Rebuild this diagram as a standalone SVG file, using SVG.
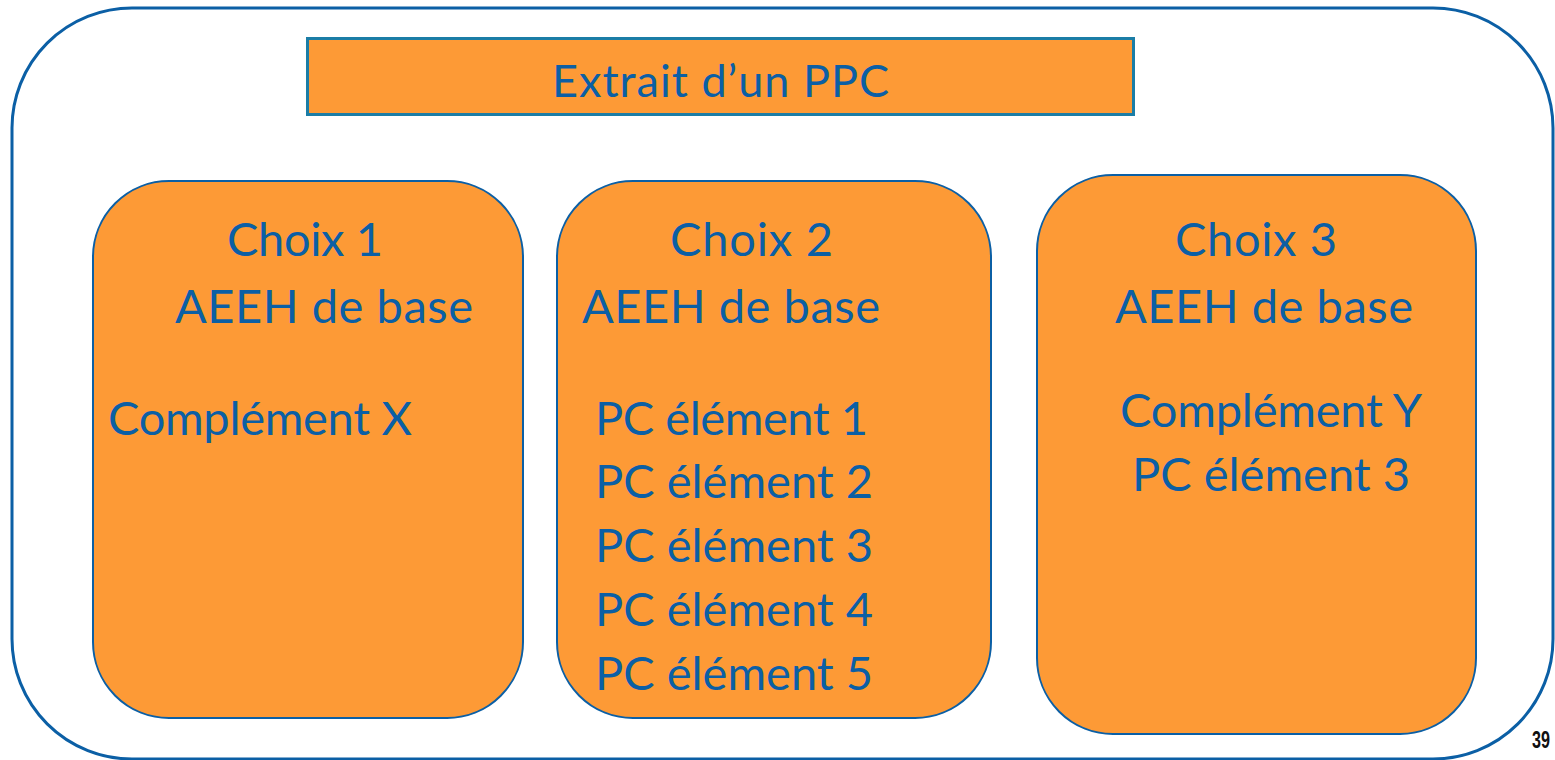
<svg xmlns="http://www.w3.org/2000/svg" width="1555" height="760" viewBox="0 0 1555 760">
<style>
.frame{fill:#FFFFFF;stroke:#0B5FA5;stroke-width:3}
.box{fill:#FD9A36;stroke:#0B5FA5;stroke-width:2}
.title{fill:#FD9A36;stroke:#1B7DA6;stroke-width:3}
.t{font-family:"Lato","Noto Sans",sans-serif;font-size:47px;fill:#0B5FA5}
.n{font-family:"Liberation Sans Narrow","Liberation Sans",sans-serif;font-weight:bold;font-size:23px;fill:#111111}
</style>
<rect width="1555" height="760" fill="#FFFFFF"/>
<g id="frame"><rect class="frame" x="12" y="8" width="1541" height="751" rx="120" ry="120"/></g>
<g id="title"><rect class="title" x="307.5" y="38.5" width="826" height="76"/>
<text class="t" x="552" y="97" textLength="337" style="font-size:45px">Extrait d’un PPC</text></g>
<g id="choix1"><rect class="box" x="93" y="181" width="430" height="537" rx="76" ry="76"/>
<text class="t" x="227" y="256" textLength="156">Choix 1</text>
<text class="t" x="175" y="323" textLength="298">AEEH de base</text>
<text class="t" x="108" y="435" textLength="304">Complément X</text></g>
<g id="choix2"><rect class="box" x="557" y="181" width="434" height="537" rx="76" ry="76"/>
<text class="t" x="670" y="256" textLength="163">Choix 2</text>
<text class="t" x="582" y="323" textLength="298">AEEH de base</text>
<text class="t" x="595" y="435" textLength="273">PC élément 1</text>
<text class="t" x="595" y="498" textLength="278">PC élément 2</text>
<text class="t" x="595" y="562" textLength="278">PC élément 3</text>
<text class="t" x="595" y="626" textLength="278">PC élément 4</text>
<text class="t" x="595" y="690" textLength="278">PC élément 5</text></g>
<g id="choix3"><rect class="box" x="1037" y="175" width="439" height="559" rx="76" ry="76"/>
<text class="t" x="1175" y="256" textLength="162">Choix 3</text>
<text class="t" x="1115" y="323" textLength="298">AEEH de base</text>
<text class="t" x="1120" y="427" textLength="302">Complément Y</text>
<text class="t" x="1132" y="491" textLength="278">PC élément 3</text></g>
<g id="connectors"></g>
<g id="page"><text class="n" x="1532" y="748" textLength="18" lengthAdjust="spacingAndGlyphs">39</text></g>
</svg>
